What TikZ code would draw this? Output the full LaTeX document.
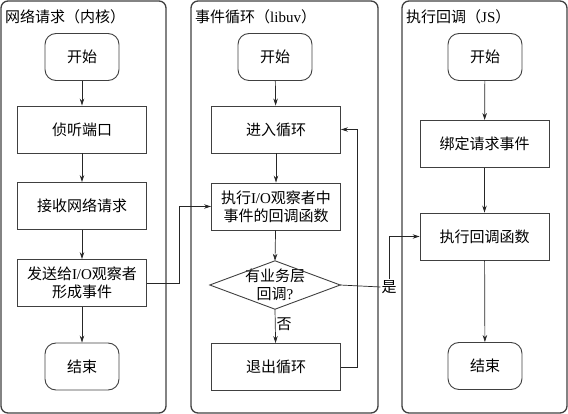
\documentclass[tikz,border=0pt]{standalone}
\usepackage{fontspec}
\setmainfont{Liberation Serif}
\newfontfamily\cjk{Noto Sans CJK SC}
\usetikzlibrary{arrows.meta}
\begin{document}
\begin{tikzpicture}[x=1pt,y=-1pt,
  lane/.style={draw=black!75,line width=1.3pt,rounded corners=7pt},
  proc/.style={draw=black!75,line width=0.9pt,minimum width=129pt,minimum height=47pt,inner sep=1pt,align=center,font=\fontsize{15}{18}\selectfont},
  term/.style={draw=black!75,line width=0.9pt,rounded corners=11pt,minimum width=74pt,minimum height=47pt,inner sep=1pt,font=\fontsize{15}{18}\selectfont},
  ttl/.style={anchor=west,inner sep=0pt,font=\fontsize{15}{18}\selectfont},
  lbl/.style={inner sep=1pt,fill=white,font=\fontsize{15}{18}\selectfont},
  arr/.style={draw=black!85,line width=0.7pt,-{Stealth[length=7pt,width=4.5pt]}},
  ln/.style={draw=black!85,line width=0.7pt}]
\useasboundingbox (0,0) rectangle (568,414);
% lanes
\draw[lane] (1,1) rectangle (166,413);
\draw[lane] (191,1) rectangle (378,413);
\draw[lane] (402,1) rectangle (567,413);
\node[ttl] (t1) at (5,17) {\cjk 网络请求（内核）};
\node[ttl] (t2) at (195,17) {{\cjk 事件循环（}libuv{\cjk ）}};
\node[ttl] (t3) at (406,17) {{\cjk 执行回调（}JS{\cjk ）}};
% lane 1
\node[term] (s1) at (82,57) {\cjk 开始};
\node[proc] (a1) at (82,129.5) {\cjk 侦听端口};
\node[proc] (a2) at (82,206) {\cjk 接收网络请求};
\node[proc] (a3) at (82,283) {{\cjk 发送给}I/O{\cjk 观察者}\\{\cjk 形成事件}};
\node[term] (e1) at (82,366.5) {\cjk 结束};
\draw[arr] (s1) -- (a1);
\draw[arr] (a1) -- (a2);
\draw[arr] (a2) -- (a3);
\draw[arr] (a3) -- (e1);
% lane 2
\node[term] (s2) at (275,57) {\cjk 开始};
\node[proc] (b1) at (276,129.5) {\cjk 进入循环};
\node[proc] (b2) at (276,206.5) {{\cjk 执行}I/O{\cjk 观察者中}\\{\cjk 事件的回调函数}};
\node[minimum width=130pt,minimum height=48pt,inner sep=0pt,align=center,font=\fontsize{15}{18}\selectfont] (d) at (275,285) {{\cjk 有业务层}\\{\cjk 回调}?};
\draw[draw=black!75,line width=0.9pt] (d.west) -- (d.north) -- (d.east) -- (d.south) -- cycle;
\node[proc] (b3) at (276,367) {\cjk 退出循环};
\draw[arr] (s2) -- (b1);
\draw[arr] (b1) -- (b2);
\draw[arr] (b2) -- (d.north);
\draw[arr] (d.south) -- node[lbl,right,fill=none,pos=0.45] (no) {\cjk 否} (b3);
\coordinate (lp) at (357,367);
\draw[arr] (b3.east) -- (lp) |- (b1.east);
% lane 3
\node[term] (s3) at (485,57) {\cjk 开始};
\node[proc] (c1) at (484.5,144) {\cjk 绑定请求事件};
\node[proc] (c2) at (484.5,236.5) {\cjk 执行回调函数};
\node[term] (e3) at (485,366) {\cjk 结束};
\draw[arr] (s3) -- (c1);
\draw[arr] (c1) -- (c2);
\draw[arr] (c2) -- (e3);
% cross-lane connectors
\coordinate (x1) at (179,283);
\draw[arr] (a3.east) -- (x1) |- (b2.west);
\node[lbl] (yes) at (389,287) {\cjk 是};
\draw[ln] (d.east) -- (yes.west);
\draw[arr] (yes.north) |- (c2.west);
\end{tikzpicture}
\end{document}
